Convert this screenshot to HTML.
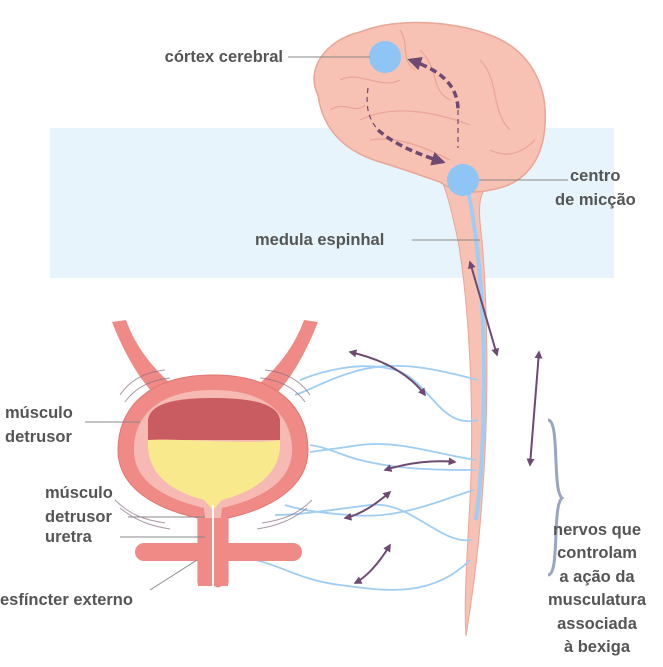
<!DOCTYPE html>
<html><head><meta charset="utf-8"><style>
body{margin:0;background:#fff}
svg{display:block}
text{font-family:"Liberation Sans",sans-serif;font-weight:700;font-size:16.5px;fill:#555}
</style></head><body>
<svg width="663" height="667" viewBox="0 0 663 667" xmlns="http://www.w3.org/2000/svg">
<defs>
<marker id="ah" viewBox="0 0 10 10" refX="8" refY="5" markerWidth="4" markerHeight="4" orient="auto-start-reverse"><path d="M0,0L10,5L0,10z" fill="#6e4a72"/></marker>
</defs>
<rect x="50" y="128" width="564" height="150" fill="#e7f4fb"/>
<!-- spinal cord -->
<path d="M438,170 C450,200 452,215 458,240 C468,300 475,400 470,500 C466,570 464,610 466,636 C470,610 478,560 482,500 C490,400 487,300 482,240 C478,210 478,195 488,185 Z" fill="#f7c1b4" stroke="#e9a597" stroke-width="1"/>
<path d="M468,190 C478,240 484,300 484,380 C484,440 480,490 476,520" stroke="#9fcdf3" stroke-width="4" fill="none"/>
<!-- brain -->
<path d="M318,95 C305,70 325,40 360,32 C395,18 450,20 490,35 C530,50 548,85 545,125 C543,160 525,185 490,190 C470,195 450,190 440,182 C420,175 400,168 380,162 C340,150 322,125 318,95 Z" fill="#f7c1b4" stroke="#e9a597" stroke-width="1.5"/>
<path d="M360,120 C390,105 430,110 470,125 M340,80 C360,70 380,90 400,80 M420,50 C440,70 430,90 450,100 M480,60 C500,80 490,110 510,130 M370,140 C400,135 430,150 450,160 M330,110 C345,100 355,115 365,105 M490,150 C510,160 525,150 535,140 M400,30 C410,45 400,60 415,70" stroke="#e9a597" stroke-width="1.2" fill="none"/>
<circle cx="385" cy="57" r="16" fill="#8ec5f5"/>
<circle cx="463" cy="180" r="16" fill="#8ec5f5"/>
<path d="M410,60 C440,70 458,85 458,110" stroke="#6e4a72" stroke-width="3.5" stroke-dasharray="7,4" fill="none" marker-start="url(#ah)"/>
<path d="M458,110 L458,148" stroke="#6e4a72" stroke-width="1.2" stroke-dasharray="5,4" fill="none"/>
<path d="M368,88 C365,110 370,120 378,130" stroke="#6e4a72" stroke-width="1.2" stroke-dasharray="5,4" fill="none"/>
<path d="M378,130 C395,145 420,155 443,162" stroke="#6e4a72" stroke-width="3.5" stroke-dasharray="7,4" fill="none" marker-end="url(#ah)"/>
<!-- nerves -->
<g stroke="#9fcdf3" stroke-width="1.8" fill="none">
<path d="M478,380 C440,370 400,360 360,370 C330,378 310,390 295,395"/>
<path d="M478,420 C440,430 430,380 395,370 C360,360 320,372 300,380"/>
<path d="M476,460 C440,455 400,440 360,445 C340,448 325,450 310,452"/>
<path d="M476,470 C440,470 400,470 360,460 C340,455 330,448 310,445"/>
<path d="M474,490 C440,500 400,520 350,515 C320,513 300,510 285,505"/>
<path d="M472,540 C440,545 410,500 370,505 C330,510 300,515 275,515"/>
<path d="M470,560 C430,600 380,590 340,585 C300,580 280,565 255,560"/>
</g>
<!-- arrows -->
<g stroke="#6e4a72" stroke-width="2" fill="none" marker-start="url(#ah)" marker-end="url(#ah)">
<path d="M470,262 L497,355"/>
<path d="M539,352 L530,465"/>
<path d="M350,352 C385,360 410,375 425,395"/>
<path d="M385,470 C410,462 435,460 455,462"/>
<path d="M390,492 C375,505 360,515 345,518"/>
<path d="M390,545 C378,565 365,578 355,583"/>
</g>
<!-- brace -->
<path d="M548,420 C560,420 552,490 562,498 C552,506 560,575 548,575" stroke="#9aa6bf" stroke-width="3" fill="none"/>
<!-- bladder -->
<path d="M112,322 C125,355 140,380 155,395 L172,385 C150,365 135,345 126,320 Z" fill="#f08a86"/>
<path d="M318,322 C305,355 290,380 275,395 L258,385 C280,365 295,345 304,320 Z" fill="#f08a86"/>
<path d="M213,375 C280,375 308,410 308,450 C308,490 265,510 228,518 L228,583 L218,587 L208,583 L198,583 L198,518 C160,510 118,490 118,450 C118,410 146,375 213,375 Z" fill="#f08a86" stroke="#e27571" stroke-width="1"/>
<path d="M213,390 C270,390 292,418 292,450 C292,485 255,500 222,508 L213,585 L204,508 C171,500 134,485 134,450 C134,418 156,390 213,390 Z" fill="#f7b9b3"/>
<path d="M148,420 C150,405 170,398 213,398 C256,398 278,405 280,420 L280,440 L148,440 Z" fill="#c95c60"/>
<path d="M148,440 C180,438 250,445 280,440 C282,470 260,490 222,500 L213,510 L204,500 C166,490 146,470 148,440 Z" fill="#f8e98d"/>
<rect x="135" y="543" width="167" height="18" rx="9" fill="#f08a86"/>
<rect x="198" y="518" width="30" height="68" fill="#f08a86"/>
<line x1="213" y1="505" x2="213" y2="587" stroke="#fff" stroke-width="2"/>
<g stroke="#8a6d82" stroke-width="1" fill="none" opacity="0.7">
<path d="M120,395 C130,380 145,372 165,370 M125,402 C135,388 150,380 170,378"/>
<path d="M310,395 C300,380 285,372 265,370 M305,402 C295,388 280,380 260,378"/>
<path d="M115,500 C130,515 145,520 165,523 M120,508 C135,520 150,526 170,529"/>
<path d="M312,500 C297,515 282,520 262,523 M307,508 C292,520 277,526 257,529"/>
</g>
<!-- leader lines -->
<g stroke="#888" stroke-width="1">
<line x1="288" y1="57" x2="370" y2="57"/>
<line x1="479" y1="180" x2="568" y2="180"/>
<line x1="412" y1="240" x2="480" y2="240"/>
<line x1="85" y1="422" x2="140" y2="422"/>
<line x1="128" y1="517" x2="205" y2="517"/>
<line x1="120" y1="537" x2="205" y2="537"/>
<line x1="150" y1="590" x2="197" y2="560"/>
</g>
<g font-weight="700">
<text x="283" y="62" text-anchor="end">córtex cerebral</text>
<text x="570" y="181">centro</text>
<text x="555" y="205">de micção</text>
<text x="255" y="245">medula espinhal</text>
<text x="5" y="418">músculo</text>
<text x="5" y="442">detrusor</text>
<text x="45" y="498">músculo</text>
<text x="45" y="522">detrusor</text>
<text x="45" y="542">uretra</text>
<text x="0" y="605">esfíncter externo</text>
<g text-anchor="middle">
<text x="597" y="535">nervos que</text>
<text x="597" y="558">controlam</text>
<text x="597" y="582">a ação da</text>
<text x="597" y="605">musculatura</text>
<text x="597" y="629">associada</text>
<text x="597" y="652">à bexiga</text>
</g>
</g>
</svg>
</body></html>
